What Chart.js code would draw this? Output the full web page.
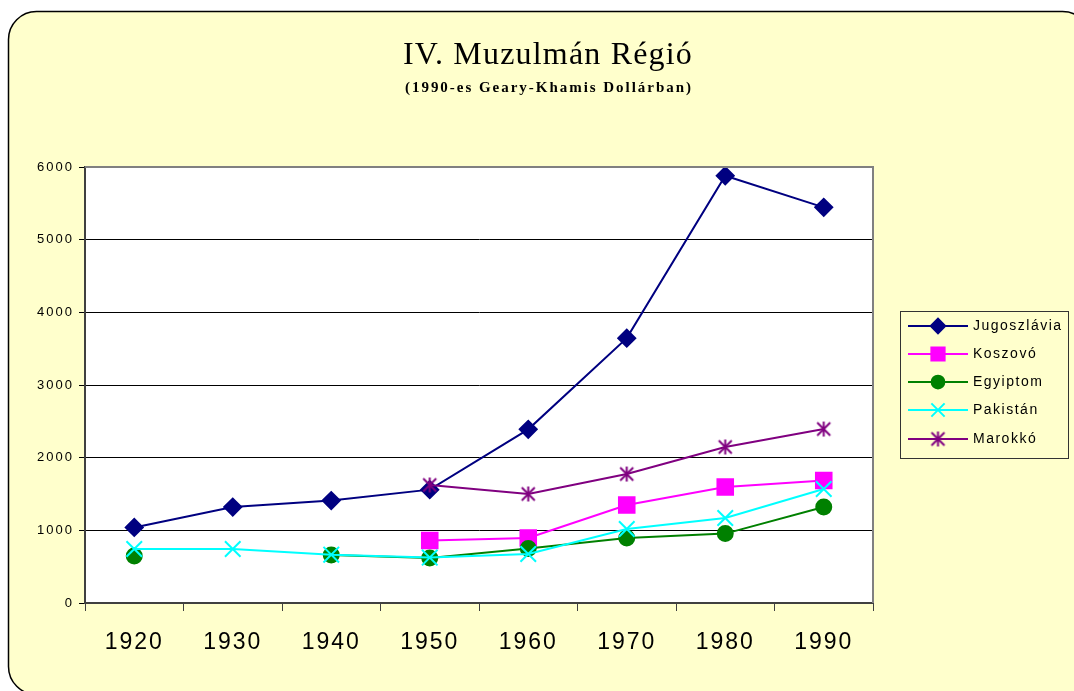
<!DOCTYPE html>
<html>
<head>
<meta charset="utf-8">
<script src="https://cdn.jsdelivr.net/npm/chart.js@4"></script>
<style>
  body { margin: 0; background: #fff; }
  canvas { display: block; }
</style>
</head>
<body>
<canvas id="gdpChart" width="1074" height="691"></canvas>
<script>
// values
const years = ['1920', '1930', '1940', '1950', '1960', '1970', '1980', '1990'];
const jugoszlavia = [1040, 1320, 1410, 1560, 2390, 3645, 5880, 5445];
const koszovo = [null, null, null, 860, 894, 1349, 1596, 1685];
const egyiptom = [647, null, 660, 619, 750, 894, 955, 1321];
const pakistan = [743, 743, 665, 625, 674, 1018, 1170, 1569];
const marokko = [null, null, null, 1624, 1500, 1775, 2147, 2394];
const yTicks = [0, 1000, 2000, 3000, 4000, 5000, 6000];

// Excel style asterisk marker (X with a vertical bar)
function asterisk(color, size) {
  const c = document.createElement('canvas');
  c.width = size;
  c.height = size;
  const g = c.getContext('2d');
  const m = size / 2, r = size / 2 - 1;
  g.strokeStyle = color;
  g.lineWidth = 2;
  g.beginPath();
  g.moveTo(m, m - r); g.lineTo(m, m + r);
  g.moveTo(m - r + 1, m - r + 1); g.lineTo(m + r - 1, m + r - 1);
  g.moveTo(m + r - 1, m - r + 1); g.lineTo(m - r + 1, m + r - 1);
  g.stroke();
  return c;
}

function series(label, data, color, style, radius, order) {
  return {
    label: label,
    data: data,
    borderColor: color,
    backgroundColor: color,
    borderWidth: 2,
    pointStyle: style,
    pointRadius: radius,
    pointHoverRadius: radius,
    pointBorderWidth: 2,
    tension: 0,
    spanGaps: false,
    order: order
  };
}

// spaced text, like the stretched fonts of the original
function spacedText(ctx, text, font, width, cx, y) {
  ctx.font = font;
  ctx.letterSpacing = '0px';
  const w = ctx.measureText(text).width;
  const sp = (width - w) / text.length;
  ctx.letterSpacing = sp + 'px';
  ctx.textAlign = 'left';
  ctx.fillText(text, cx - width / 2, y);
}

const frame = {
  id: 'frame',
  beforeDraw(chart) {
    const ctx = chart.ctx;
    const a = chart.chartArea;
    ctx.fillStyle = '#ffffff';
    ctx.fillRect(0, 0, chart.width, chart.height);
    // yellow rounded panel
    ctx.beginPath();
    ctx.roundRect(8.5, 11.5, 1082, 683, 28);
    ctx.fillStyle = '#ffffcc';
    ctx.fill();
    ctx.lineWidth = 1.5;
    ctx.strokeStyle = '#000000';
    ctx.stroke();
    // plot area
    ctx.fillStyle = '#ffffff';
    ctx.fillRect(a.left, a.top, a.right - a.left, a.bottom - a.top);
    ctx.letterSpacing = '2px';
  },
  afterDraw(chart) {
    const ctx = chart.ctx;
    const a = chart.chartArea;
    ctx.save();
    // grey plot border (top and right)
    ctx.strokeStyle = '#808080';
    ctx.lineWidth = 2;
    ctx.beginPath();
    ctx.moveTo(a.left, a.top);
    ctx.lineTo(a.right, a.top);
    ctx.lineTo(a.right, a.bottom);
    ctx.stroke();

    // titles
    ctx.fillStyle = '#000000';
    ctx.textBaseline = 'alphabetic';
    spacedText(ctx, 'IV. Muzulmán Régió', '32px "Liberation Serif"', 290, 548, 64);
    spacedText(ctx, '(1990-es Geary-Khamis Dollárban)', 'bold 15px "Liberation Serif"', 288, 549, 92);

    // legend
    const lx = 900, ly = 311, lw = 168, lh = 147;
    ctx.letterSpacing = '0px';
    ctx.strokeStyle = '#333333';
    ctx.lineWidth = 1;
    ctx.strokeRect(lx + 0.5, ly + 0.5, lw, lh);
    const rowY = [326, 354, 382, 410, 439];
    chart.data.datasets.forEach((ds, i) => {
      const y = rowY[i];
      ctx.strokeStyle = ds.borderColor;
      ctx.lineWidth = 2;
      ctx.beginPath();
      ctx.moveTo(lx + 8, y);
      ctx.lineTo(lx + 68, y);
      ctx.stroke();
      ctx.fillStyle = ds.backgroundColor;
      Chart.helpers.drawPoint(ctx, {
        pointStyle: ds.pointStyle,
        radius: ds.pointRadius * 0.85,
        rotation: 0,
        borderWidth: 2
      }, lx + 38, y);
      ctx.fillStyle = '#000000';
      ctx.font = '14px "Liberation Sans"';
      ctx.letterSpacing = '1.5px';
      ctx.textAlign = 'left';
      ctx.textBaseline = 'middle';
      ctx.fillText(ds.label, lx + 73, y);
      ctx.letterSpacing = '0px';
    });
    ctx.restore();
    ctx.letterSpacing = '0px';
  }
};

const ctx = document.getElementById('gdpChart').getContext('2d');
const gdpChart = new Chart(ctx, {
  type: 'line',
  data: {
    labels: years,
    datasets: [
      series('Jugoszlávia', jugoszlavia, '#000080', 'rectRot', 8.5, 5),
      series('Koszovó', koszovo, '#ff00ff', 'rect', 11, 4),
      series('Egyiptom', egyiptom, '#008000', 'circle', 7.5, 3),
      series('Pakistán', pakistan, '#00ffff', 'crossRot', 11, 2),
      series('Marokkó', marokko, '#800080', asterisk('#800080', 17), 8.5, 1)
    ]
  },
  options: {
    responsive: false,
    animation: false,
    events: [],
    layout: { padding: { left: 0, right: 201, top: 167, bottom: 0 } },
    plugins: {
      legend: { display: false },
      title: { display: false },
      tooltip: { enabled: false }
    },
    scales: {
      x: {
        offset: true,
        afterFit(scale) { scale.height = 88; },
        grid: {
          offset: true,
          drawOnChartArea: false,
          drawTicks: true,
          tickLength: 8,
          color: '#404040',
          lineWidth: 1
        },
        border: { color: '#404040', width: 2 },
        ticks: {
          color: '#000000',
          font: { family: 'Liberation Sans', size: 23 },
          padding: 18,
          maxRotation: 0
        }
      },
      y: {
        min: 0,
        max: 6000,
        afterFit(scale) { scale.width = 85; },
        afterBuildTicks(scale) { scale.ticks = yTicks.map(v => ({ value: v })); },
        grid: {
          color: '#000000',
          lineWidth: 1,
          tickLength: 6
        },
        border: { color: '#404040', width: 2 },
        ticks: {
          color: '#000000',
          font: { family: 'Liberation Sans', size: 13 },
          padding: 5,
          callback: v => String(v)
        }
      }
    }
  },
  plugins: [frame]
});
</script>
</body>
</html>
